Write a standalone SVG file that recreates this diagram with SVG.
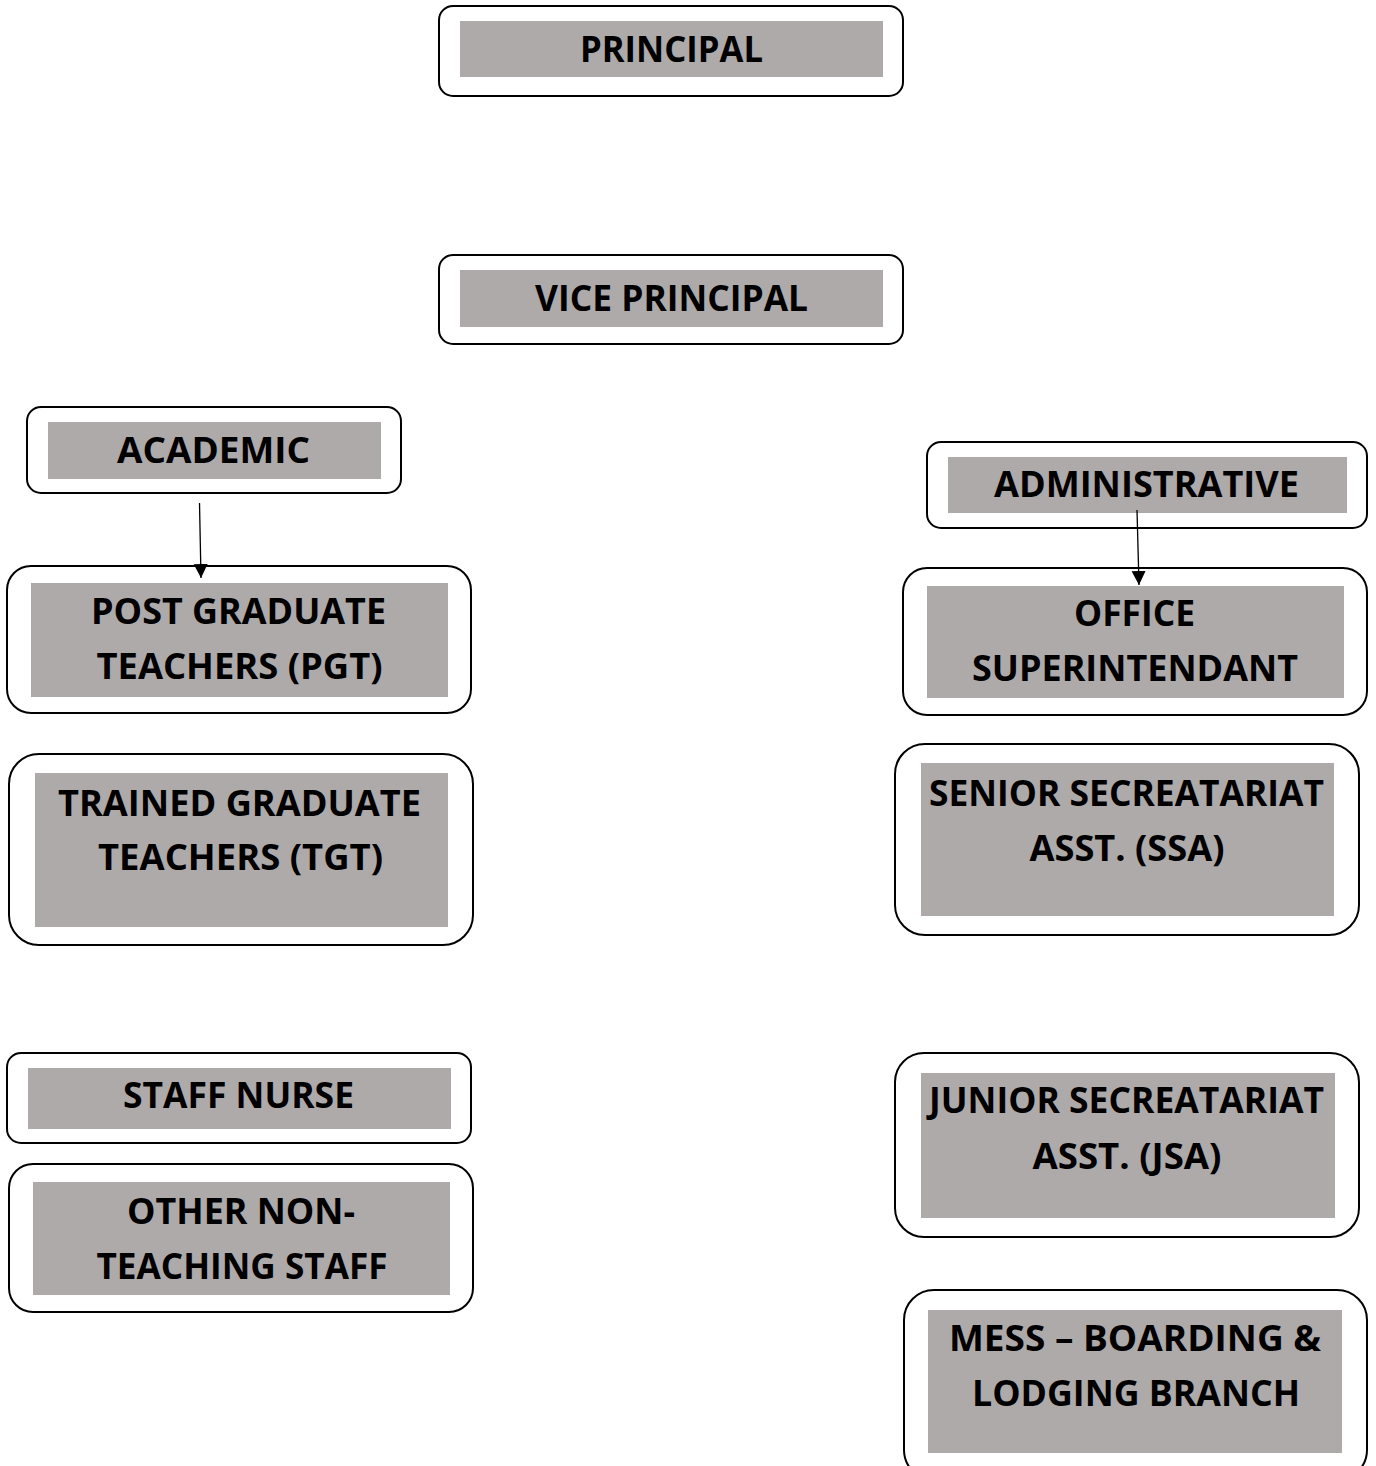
<svg xmlns="http://www.w3.org/2000/svg" width="1376" height="1466" viewBox="0 0 1376 1466">
<defs>
<style>
.outer{fill:#ffffff;stroke:#000000;stroke-width:2}
.inner{fill:#aeaaaa;stroke:none}
.lbl{font-family:"Open Sans","Liberation Sans",sans-serif;font-weight:700;font-size:36px;fill:#000000;text-anchor:middle}
.conn{stroke:#000000;stroke-width:1.3;fill:none}
</style>
<marker id="arrow" markerWidth="16" markerHeight="16" refX="14" refY="7" orient="auto" markerUnits="userSpaceOnUse">
<path d="M0,0 L14,7 L0,14 Z" fill="#000000"/>
</marker>
</defs>
<rect width="1376" height="1466" fill="#ffffff"/>

<g id="principal">
<rect class="outer" x="439" y="6" width="464" height="90" rx="14"/>
<rect class="inner" x="460" y="21" width="423" height="56"/>
<text class="lbl" x="671.5" y="62" textLength="183" lengthAdjust="spacingAndGlyphs">PRINCIPAL</text>
</g>

<g id="vice-principal">
<rect class="outer" x="439" y="255" width="464" height="89" rx="14"/>
<rect class="inner" x="460" y="270" width="423" height="57"/>
<text class="lbl" x="671.5" y="311" textLength="273" lengthAdjust="spacingAndGlyphs">VICE PRINCIPAL</text>
</g>

<g id="academic">
<rect class="outer" x="27" y="407" width="374" height="86" rx="14"/>
<rect class="inner" x="48" y="422" width="333" height="57"/>
<text class="lbl" x="213.5" y="463" textLength="193" lengthAdjust="spacingAndGlyphs">ACADEMIC</text>
</g>

<g id="pgt">
<rect class="outer" x="7" y="566" width="464" height="147" rx="24"/>
<rect class="inner" x="31" y="583" width="417" height="114"/>
<text class="lbl" x="238.5" y="624" textLength="295" lengthAdjust="spacingAndGlyphs">POST GRADUATE</text>
<text class="lbl" x="239.5" y="679" textLength="286" lengthAdjust="spacingAndGlyphs">TEACHERS (PGT)</text>
</g>

<g id="tgt">
<rect class="outer" x="9" y="754" width="464" height="191" rx="30"/>
<rect class="inner" x="35" y="773" width="413" height="154"/>
<text class="lbl" x="239.5" y="816" textLength="363" lengthAdjust="spacingAndGlyphs">TRAINED GRADUATE</text>
<text class="lbl" x="240.5" y="870" textLength="285" lengthAdjust="spacingAndGlyphs">TEACHERS (TGT)</text>
</g>

<g id="staff-nurse">
<rect class="outer" x="7" y="1053" width="464" height="90" rx="14"/>
<rect class="inner" x="28" y="1068" width="423" height="61"/>
<text class="lbl" x="238.5" y="1108" textLength="231" lengthAdjust="spacingAndGlyphs">STAFF NURSE</text>
</g>

<g id="other-non-teaching">
<rect class="outer" x="9" y="1164" width="464" height="148" rx="24"/>
<rect class="inner" x="33" y="1182" width="417" height="113"/>
<text class="lbl" x="241" y="1224" textLength="228" lengthAdjust="spacingAndGlyphs">OTHER NON-</text>
<text class="lbl" x="242" y="1279" textLength="291" lengthAdjust="spacingAndGlyphs">TEACHING STAFF</text>
</g>

<g id="administrative">
<rect class="outer" x="927" y="442" width="440" height="86" rx="14"/>
<rect class="inner" x="948" y="457" width="399" height="56"/>
<text class="lbl" x="1146.5" y="497" textLength="305" lengthAdjust="spacingAndGlyphs">ADMINISTRATIVE</text>
</g>

<g id="office-superintendant">
<rect class="outer" x="903" y="568" width="464" height="147" rx="24"/>
<rect class="inner" x="927" y="586" width="417" height="112"/>
<text class="lbl" x="1134.5" y="626" textLength="121" lengthAdjust="spacingAndGlyphs">OFFICE</text>
<text class="lbl" x="1135" y="681" textLength="326" lengthAdjust="spacingAndGlyphs">SUPERINTENDANT</text>
</g>

<g id="ssa">
<rect class="outer" x="895" y="744" width="464" height="191" rx="30"/>
<rect class="inner" x="921" y="763" width="413" height="153"/>
<text class="lbl" x="1126.5" y="806" textLength="395" lengthAdjust="spacingAndGlyphs">SENIOR SECREATARIAT</text>
<text class="lbl" x="1127" y="861" textLength="195" lengthAdjust="spacingAndGlyphs">ASST. (SSA)</text>
</g>

<g id="jsa">
<rect class="outer" x="895" y="1053" width="464" height="184" rx="29"/>
<rect class="inner" x="921" y="1073" width="414" height="145"/>
<text class="lbl" x="1126.5" y="1113" textLength="395" lengthAdjust="spacingAndGlyphs">JUNIOR SECREATARIAT</text>
<text class="lbl" x="1127" y="1169" textLength="189" lengthAdjust="spacingAndGlyphs">ASST. (JSA)</text>
</g>

<g id="mess">
<rect class="outer" x="904" y="1290" width="463" height="190" rx="30"/>
<rect class="inner" x="928" y="1310" width="414" height="143"/>
<text class="lbl" x="1135" y="1351" textLength="372" lengthAdjust="spacingAndGlyphs">MESS – BOARDING &amp;</text>
<text class="lbl" x="1136" y="1406" textLength="328" lengthAdjust="spacingAndGlyphs">LODGING BRANCH</text>
</g>

<g id="connectors">
<line class="conn" x1="199.5" y1="503" x2="201" y2="578" marker-end="url(#arrow)"/>
<line class="conn" x1="1137" y1="510" x2="1139" y2="585" marker-end="url(#arrow)"/>
</g>
</svg>
